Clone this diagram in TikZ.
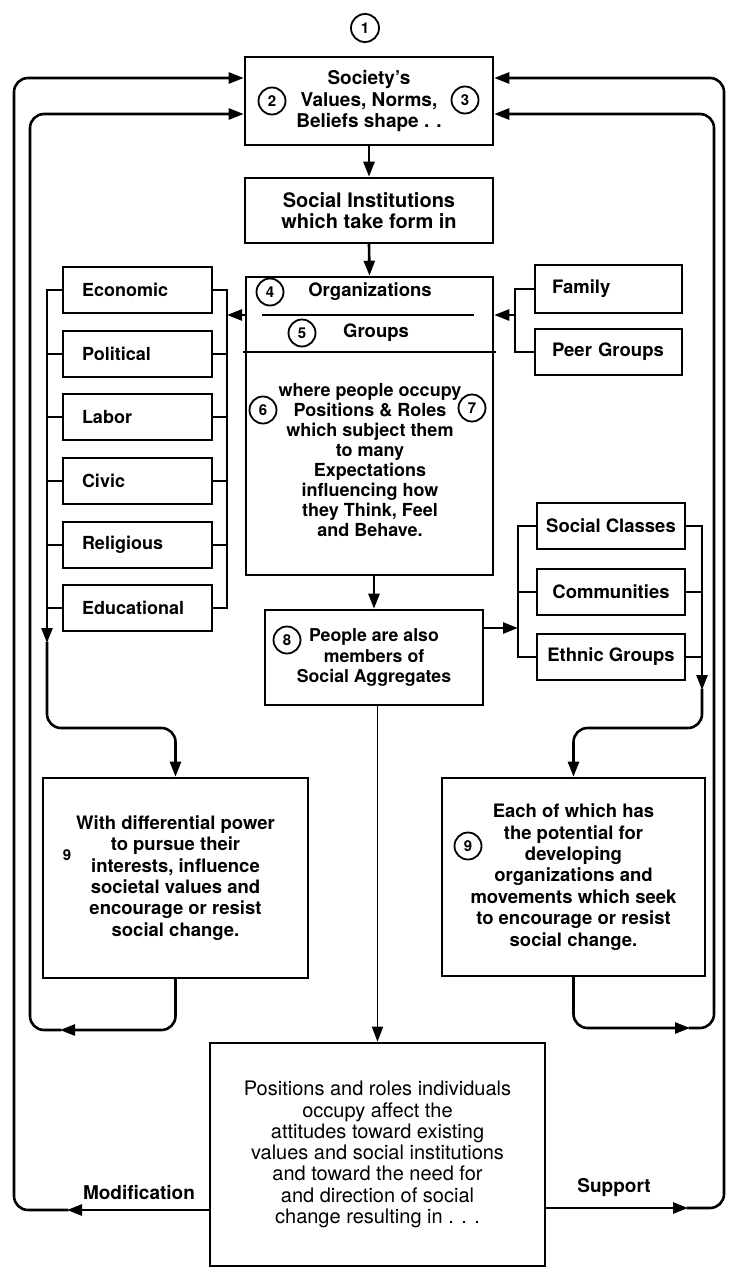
\documentclass[tikz,border=0pt]{standalone}
\usepackage{fontspec}
\setmainfont{TeX Gyre Heros}
\usetikzlibrary{arrows.meta}
\begin{document}
\begin{tikzpicture}[x=1pt,y=-1pt,
  conn/.style={line width=2.6pt, line cap=rect},
  thinconn/.style={line width=1.6pt},
  arr/.style={-{Triangle[length=15pt,width=11pt]}},
  rc/.style={rounded corners=14pt},
  boxa/.style={draw, line width=2.6pt, inner sep=0pt, align=center},
  ftop/.style={font=\bfseries\fontsize{19}{21.5}\selectfont},
  fmid/.style={font=\bfseries\fontsize{18.5}{20}\selectfont},
  focc/.style={font=\bfseries\fontsize{18}{20}\selectfont, align=center},
  flow/.style={font=\bfseries\fontsize{18.5}{21.4}\selectfont},
  ffin/.style={font=\fontsize{20}{21.3}\selectfont},
  flab/.style={font=\bfseries\fontsize{19}{21}\selectfont},
  num/.style={draw, circle, line width=1.8pt, minimum size=27pt, inner sep=0pt, font=\bfseries\fontsize{15}{15}\selectfont},
  lbox/.style={draw, line width=2.6pt, minimum height=46pt, inner ysep=0pt, inner xsep=19pt, text width=111pt, align=left, font=\bfseries\fontsize{18}{20}\selectfont},
  rbox/.style={draw, line width=2.6pt, minimum height=46pt, inner ysep=0pt, inner xsep=17pt, text width=113pt, align=left, font=\bfseries\fontsize{18.5}{20}\selectfont},
  abox/.style={draw, line width=2.6pt, minimum width=148pt, minimum height=46pt, inner sep=0pt, font=\bfseries\fontsize{18.5}{20}\selectfont}
]
\useasboundingbox (0,0) rectangle (729,1269);

% ---------- top column ----------
\node[boxa, ftop, minimum width=248pt, minimum height=88pt] (soc) at (369,101) {Society's\\Values, Norms,\\Beliefs shape . .};
\node[num, minimum size=28pt] (n1) at (365,28) {1};
\node[num] (n2) at (272,101) {2};
\node[num] (n3) at (465,100) {3};

\node[boxa, font=\bfseries\fontsize{20}{21}\selectfont, minimum width=248pt, minimum height=65pt] (inst) at (369,210.5) {Social Institutions\\which take form in};

\node[boxa, minimum width=247pt, minimum height=298pt] (org) at (369.5,426) {};
\node[num] (n4) at (270,292) {4};
\node[fmid] (orgs) at (370,292) {Organizations};
\coordinate (ol1) at (263,315);
\coordinate (ol2) at (473,315);
\draw[conn] (ol1) -- (ol2);
\node[num] (n5) at (302,333) {5};
\node[fmid] (grp) at (376,333) {Groups};
\coordinate (dv) at (0,352);
\draw[conn] (org.west |- dv) -- (org.east |- dv);
\node[focc] (occ) at (370,460) {where people occupy\\Positions \& Roles\\which subject them\\to many\\Expectations\\influencing how\\they Think, Feel\\and Behave.};
\node[num] (n6) at (263,410) {6};
\node[num] (n7) at (472,408) {7};

\node[boxa, font=\bfseries\fontsize{17.7}{20.5}\selectfont, minimum width=218pt, minimum height=95pt] (agg) at (374,657.5) {People are also\\members of\\Social Aggregates};
\node[num] (n8) at (287,640) {8};

% ---------- left column ----------
\node[lbox] (eco) at (137.5,290) {Economic};
\node[lbox] (pol) at (137.5,354) {Political};
\node[lbox] (lab) at (137.5,417) {Labor};
\node[lbox] (civ) at (137.5,481) {Civic};
\node[lbox] (rel) at (137.5,545) {Religious};
\node[lbox] (edu) at (137.5,608) {Educational};

% ---------- right column ----------
\node[rbox, minimum height=48pt] (fam) at (608.5,289) {Family};
\node[rbox] (peer) at (608.5,352) {Peer Groups};
\node[abox] (cls) at (611,526) {Social Classes};
\node[abox] (com) at (611,592) {Communities};
\node[abox] (eth) at (611,657) {Ethnic Groups};

% ---------- lower boxes ----------
\node[boxa, flow, minimum width=265pt, minimum height=200pt] (diff) at (175.5,878) {With differential power\\to pursue their\\interests, influence\\societal values and\\encourage or resist\\social change.};
\node[font=\bfseries\fontsize{15}{15}\selectfont] (nine) at (67,855) {9};
\node[boxa, flow, minimum width=263pt, minimum height=198pt] (each) at (573.5,877) {Each of which has\\the potential for\\developing\\organizations and\\movements which seek\\to encourage or resist\\social change.};
\node[num] (n9) at (468,846) {9};
\node[boxa, ffin, minimum width=335pt, minimum height=223pt] (fin) at (377.5,1154.5) {Positions and roles individuals\\occupy affect the\\attitudes toward existing\\values and social institutions\\and toward the need for\\and direction of social\\change resulting in . . .};

\node[flab] (mod) at (139,1192) {Modification};
\node[flab] (sup) at (614,1188) {Support};

% ---------- central arrows ----------
\draw[conn, arr] (soc.south) -- (inst.north);
\draw[conn, arr] (inst.south) -- (org.north);
\draw[conn, arr] (agg.north |- org.south) -- (agg.north);
\draw[thinconn, arr] (fin.north |- agg.south) -- (fin.north);

% ---------- left buses ----------
\coordinate (LB) at (47,0);
\coordinate (RB) at (227,0);
\foreach \n in {eco,pol,lab,civ,rel,edu} {
  \draw[conn] (\n.west) -- (\n.west -| LB);
  \draw[conn] (\n.east) -- (\n.east -| RB);
}
\draw[conn] (eco.east -| RB) -- (edu.east -| RB);
\draw[conn, arr] (org.west |- ol1) -- (ol1 -| RB);
\coordinate (lbm) at (47,643);
\coordinate (lbc1) at (47,728);
\coordinate (lbc2) at (175.5,728);
\draw[conn, arr] (eco.west -| LB) -- (lbm);
\draw[conn, rc, arr] (lbm) -- (lbc1) -- (lbc2) -- (diff.north);

% ---------- right buses ----------
\coordinate (FB) at (515,0);
\draw[conn] (fam.west) -- (fam.west -| FB) -- (peer.west -| FB) -- (peer.west);
\draw[conn, arr] (ol2 -| FB) -- (org.east |- ol2);

\coordinate (AB) at (518,0);
\coordinate (AR) at (702,0);
\foreach \n in {cls,com,eth} {
  \draw[conn] (\n.west) -- (\n.west -| AB);
  \draw[conn] (\n.east) -- (\n.east -| AR);
}
\draw[conn] (cls.west -| AB) -- (eth.west -| AB);
\coordinate (DA) at (0,628);
\draw[conn, arr] (agg.east |- DA) -- (DA -| AB);
\coordinate (arm) at (702,690);
\coordinate (arc1) at (702,728);
\coordinate (arc2) at (573.5,728);
\draw[conn, arr] (cls.east -| AR) -- (arm);
\draw[conn, rc, arr] (arm) -- (arc1) -- (arc2) -- (each.north);

% ---------- feedback loops ----------
\coordinate (yin) at (0,114);
\coordinate (yout) at (0,78);
% left inner
\coordinate (lim) at (60,1030);
\coordinate (lic2) at (30,1030);
\coordinate (lic3) at (30,114);
\draw[conn, rc, arr] (diff.south) -- (diff.south |- lim) -- (lim);
\draw[conn, rc, arr] (lim) -- (lic2) -- (lic3) -- (soc.west |- yin);
% left outer
\coordinate (lom) at (67,1210);
\coordinate (loc2) at (14,1210);
\coordinate (loc3) at (14,78);
\draw[conn, arr] (fin.west |- lom) -- (lom);
\draw[conn, rc, arr] (lom) -- (loc2) -- (loc3) -- (soc.west |- yout);
% right inner
\coordinate (rim) at (690,1028);
\coordinate (ric2) at (714,1028);
\coordinate (ric3) at (714,114);
\draw[conn, rc, arr] (each.south) -- (each.south |- rim) -- (rim);
\draw[conn, rc, arr] (rim) -- (ric2) -- (ric3) -- (soc.east |- yin);
% right outer
\coordinate (rom) at (688,1208);
\coordinate (roc2) at (724,1208);
\coordinate (roc3) at (724,78);
\draw[conn, arr] (fin.east |- rom) -- (rom);
\draw[conn, rc, arr] (rom) -- (roc2) -- (roc3) -- (soc.east |- yout);

\end{tikzpicture}
\end{document}
